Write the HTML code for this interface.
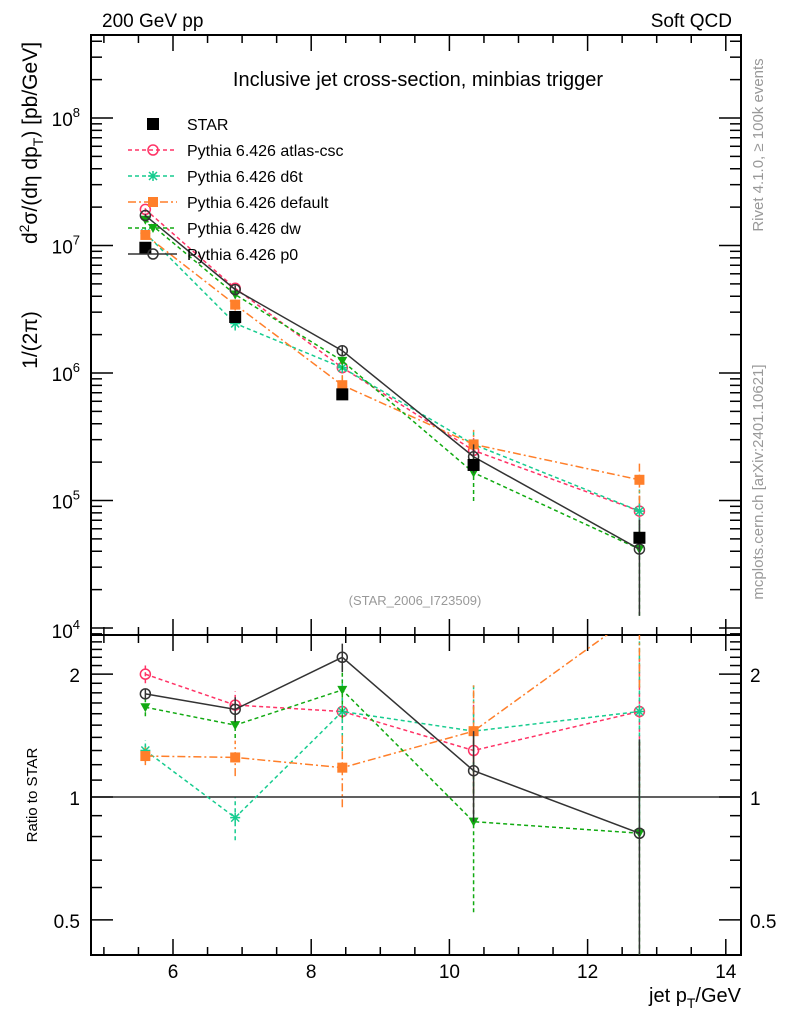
<!DOCTYPE html>
<html><head><meta charset="utf-8"><style>
html,body{margin:0;padding:0;background:#fff;width:786px;height:1024px;overflow:hidden}
svg{font-family:"Liberation Sans",sans-serif;display:block}
</style></head><body>
<svg id="chart" width="786" height="1024" viewBox="0 0 786 1024" xmlns="http://www.w3.org/2000/svg">
<text x="102" y="27" font-size="19">200 GeV pp</text>
<text x="732" y="27" font-size="19" text-anchor="end">Soft QCD</text>
<text x="418" y="86" font-size="20" text-anchor="middle">Inclusive jet cross-section, minbias trigger</text>
<text x="415" y="605" font-size="13" fill="#999" text-anchor="middle">(STAR_2006_I723509)</text>
<text transform="translate(763,145) rotate(-90)" font-size="15" fill="#999" text-anchor="middle">Rivet 4.1.0, ≥ 100k events</text>
<text transform="translate(763,482) rotate(-90)" font-size="15" fill="#999" text-anchor="middle">mcplots.cern.ch [arXiv:2401.10621]</text>
<text transform="translate(37,340) rotate(-90)" font-size="21" text-anchor="middle">1/(2π)</text>
<text transform="translate(37,143) rotate(-90)" font-size="21" text-anchor="middle">d<tspan font-size="14" dy="-8">2</tspan><tspan dy="8">σ/(dη dp</tspan><tspan font-size="14" dy="6">T</tspan><tspan dy="-6">) [pb/GeV]</tspan></text>
<text transform="translate(37,795) rotate(-90)" font-size="15" text-anchor="middle">Ratio to STAR</text>
<text x="741" y="1002" font-size="20" text-anchor="end">jet p<tspan font-size="14" dy="6">T</tspan><tspan dy="-6">/GeV</tspan></text>
<g id="plot"></g>
</svg>
<script>
const xPoints = [5.6, 6.9, 8.45, 10.35, 12.75];
const starValues = [9.6e6, 2.75e6, 6.8e5, 1.9e5, 5.1e4];
const starErr = [0.04, 0.04, 0.07, 0.08, 0.08];
const ratioAtlas = [2.0, 1.68, 1.62, 1.30, 1.62];
const ratioD6t = [1.30, 0.89, 1.62, 1.45, 1.62];
const ratioDefault = [1.26, 1.25, 1.18, 1.45, 2.85];
const ratioDw = [1.66, 1.50, 1.83, 0.87, 0.815];
const ratioP0 = [1.79, 1.64, 2.20, 1.16, 0.815];
const errAtlas = [0.05, 0.08, 0.1, 0.3, 0.35];
const errD6t = [0.06, 0.12, 0.2, 0.3, 0.5];
const errDefault = [0.05, 0.1, 0.2, 0.3, 0.35];
const errDw = [0.05, 0.07, 0.15, 0.4, 0.7];
const errP0 = [0.03, 0.07, 0.08, 0.25, 0.7];
const xTicks = [6, 8, 10, 12, 14];
const yDecades = [4, 5, 6, 7, 8];
const ratioTicks = [0.5, 1, 2];

const L=91,R=741,T=35,MB=635,RB=955;
const X=v=>173+(v-6)*69.1;
const Y=v=>118+(8-Math.log10(v))*127.5;
const RY=v=>797-Math.log10(v)*408;
const g=document.getElementById('plot');
const NS='http://www.w3.org/2000/svg';
function mk(tag,attrs,parent){const e=document.createElementNS(NS,tag);for(const k in attrs)e.setAttribute(k,attrs[k]);(parent||g).appendChild(e);return e;}

const defs=mk('defs',{});
const c1=mk('clipPath',{id:'cm'},defs);mk('rect',{x:L,y:T,width:R-L,height:MB-T},c1);
const c2=mk('clipPath',{id:'cr'},defs);mk('rect',{x:L,y:MB,width:R-L,height:RB-MB},c2);

const fr1=mk('rect',{x:L,y:T,width:R-L,height:MB-T,fill:'none',stroke:'#000','stroke-width':2});

const fr2=mk('rect',{x:L,y:MB,width:R-L,height:RB-MB,fill:'none',stroke:'#000','stroke-width':2});


for(let v=5;v<=14;v+=0.5){const x=X(v);if(x<L||x>R)continue;const maj=Number.isInteger(v/2)&&v%2===0;const len=maj?16:8;
 [[T,T+len],[MB,MB-len],[MB,MB+len],[RB,RB-len]].forEach(p=>{const t=mk('line',{x1:x,x2:x,y1:p[0],y2:p[1],stroke:'#000','stroke-width':1.5});});}
xTicks.forEach(v=>{const t=mk('text',{x:X(v),y:978,'font-size':19,'text-anchor':'middle'});t.textContent=v;});

for(let d=3;d<=8;d++){for(let m=1;m<10;m++){const y=Y(m*Math.pow(10,d));if(y<T||y>MB)continue;const len=m===1?22:11;
 [[L,L+len],[R,R-len]].forEach(p=>{const t=mk('line',{x1:p[0],x2:p[1],y1:y,y2:y,stroke:'#000','stroke-width':1.5});});}}
yDecades.forEach(d=>{const t=mk('text',{x:80,y:Y(Math.pow(10,d))+8,'font-size':19,'text-anchor':'end'});
 t.innerHTML='10<tspan font-size="13" dy="-9">'+d+'</tspan>';if(d===4)t.setAttribute('y',Y(1e4)+10);});

for(let v=0.4;v<=2.5;v+=0.1){const y=RY(v);if(y<MB||y>RB)continue;const maj=[0.5,1,2].some(a=>Math.abs(a-v)<1e-6);const len=maj?22:11;
 [[L,L+len],[R,R-len]].forEach(p=>{const t=mk('line',{x1:p[0],x2:p[1],y1:y,y2:y,stroke:'#000','stroke-width':1.5});});}
ratioTicks.forEach(v=>{[[80,'end'],[750,'start']].forEach(p=>{const t=mk('text',{x:p[0],y:RY(v)+8,'font-size':19,'text-anchor':p[1]});t.textContent=v;});});
const one=mk('line',{x1:L,x2:R,y1:RY(1),y2:RY(1),stroke:'#000','stroke-width':1.3});

const series=[
 {name:'Pythia 6.426 atlas-csc',key:'atlas-csc',ratio:ratioAtlas,err:errAtlas,color:'#ff3366',dash:'4,3',marker:'ocircle'},
 {name:'Pythia 6.426 d6t',key:'d6t',ratio:ratioD6t,err:errD6t,color:'#17cc8f',dash:'4,3',marker:'star'},
 {name:'Pythia 6.426 default',key:'default',ratio:ratioDefault,err:errDefault,color:'#ff7f2a',dash:'8,3,2,3',marker:'square'},
 {name:'Pythia 6.426 dw',key:'dw',ratio:ratioDw,err:errDw,color:'#11aa11',dash:'4,3',marker:'tri'},
 {name:'Pythia 6.426 p0',key:'p0',ratio:ratioP0,err:errP0,color:'#333333',dash:'',marker:'ocircle'}
];
function marker(par,type,x,y,col){let e;
 if(type==='ocircle')e=mk('circle',{cx:x,cy:y,r:5,fill:'none',stroke:col,'stroke-width':1.5},par);
 else if(type==='square')e=mk('rect',{x:x-5,y:y-5,width:10,height:10,fill:col},par);
 else if(type==='tri')e=mk('path',{d:`M${x-5},${y-4}L${x+5},${y-4}L${x},${y+5}Z`,fill:col},par);
 else if(type==='star'){e=mk('path',{d:`M${x-5},${y}L${x+5},${y}M${x},${y-5}L${x},${y+5}M${x-4},${y-4}L${x+4},${y+4}M${x-4},${y+4}L${x+4},${y-4}`,stroke:col,'stroke-width':1.5},par);}
 else if(type==='bsquare')e=mk('rect',{x:x-6,y:y-6,width:12,height:12,fill:col},par);
 return e;}

series.forEach(s=>{
 ['main','ratio'].forEach(panel=>{
  const grp=mk('g',{'clip-path':panel==='main'?'url(#cm)':'url(#cr)'});
  
  
  const yf=i=>panel==='main'?Y(starValues[i]*s.ratio[i]):RY(s.ratio[i]);
  const pts=xPoints.map((x,i)=>X(x)+','+yf(i)).join(' ');
  const pl=mk('polyline',{points:pts,fill:'none',stroke:s.color,'stroke-width':1.5,'stroke-dasharray':s.dash},grp);
  
  xPoints.forEach((xv,i)=>{const base=panel==='main'?starValues[i]*s.ratio[i]:s.ratio[i];const f=panel==='main'?Y:RY;
   const lo=base*(1-Math.min(s.err[i],0.95)),hi=base*(1+s.err[i]);
   const eb=mk('line',{x1:X(xv),x2:X(xv),y1:f(lo),y2:f(hi),stroke:s.color,'stroke-width':1.5,'stroke-dasharray':s.dash},grp);
   
   const m=marker(grp,s.marker,X(xv),yf(i),s.color);
   
  });
 });
});
const sg=mk('g',{'clip-path':'url(#cm)'});


xPoints.forEach((xv,i)=>{
 const eb=mk('line',{x1:X(xv),x2:X(xv),y1:Y(starValues[i]*(1-starErr[i])),y2:Y(starValues[i]*(1+starErr[i])),stroke:'#000','stroke-width':1.5},sg);
 
 const m=marker(sg,'bsquare',X(xv),Y(starValues[i]),'#000');
 
});

const lg=mk('g',{});


const ent=[{name:'STAR',marker:'bsquare',color:'#000',dash:null}].concat(series);
ent.forEach((s,i)=>{const y=124+i*26;
 const eg=mk('g',{},lg);
 
 
 if(s.dash!==null){mk('line',{x1:128,x2:177,y1:y,y2:y,stroke:s.color,'stroke-width':1.5,'stroke-dasharray':s.dash},eg);}
 marker(eg,s.marker,153,y,s.color);
 const t=mk('text',{x:187,y:y+6,'font-size':16},eg);t.textContent=s.name;
});
</script>
</body></html>
